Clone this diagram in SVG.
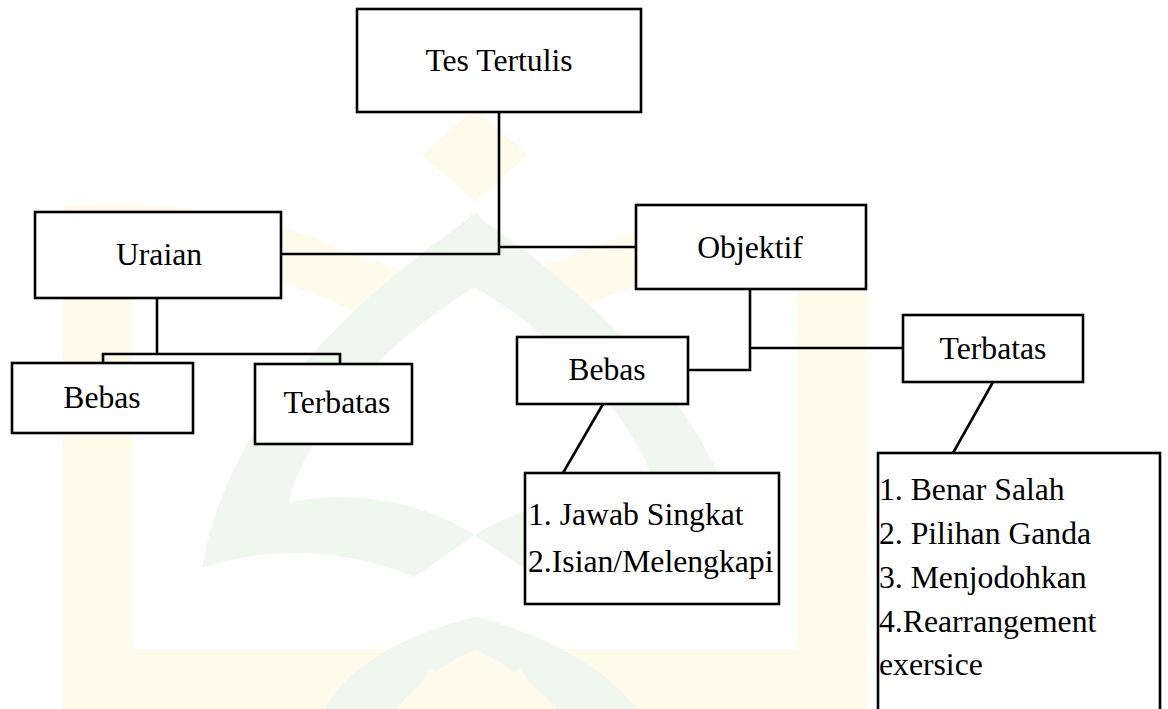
<svg xmlns="http://www.w3.org/2000/svg" width="1168" height="709" viewBox="0 0 1168 709">
<style>
.box{fill:#fff;stroke:#000;stroke-width:2.6}
.ln{fill:none;stroke:#000;stroke-width:2.6}
.t{font-family:"Liberation Serif","Times New Roman",serif;font-size:31.7px;fill:#000}
.c{text-anchor:middle}
.wy{fill:#fffbeb}
.wg{fill:#eff7ef}
</style>
<rect width="1168" height="709" fill="#fff"/>
<g id="watermark">
<rect class="wy" x="63" y="205" width="70" height="504"/>
<rect class="wy" x="797" y="205" width="70" height="504"/>
<rect class="wy" x="63" y="649" width="804" height="60"/>
<path class="wy" d="M55,207 C150,198 250,210 330,245 L403,272 L363,317 C320,290 230,262 133,255 L133,205 Z"/>
<path class="wy" d="M875,207 C780,198 680,210 600,245 L527,272 L567,317 C610,290 700,262 797,255 L797,205 Z"/>
<path class="wy" d="M475,108 L528,155 L475,202 L422,155 Z"/>
<path class="wg" d="M477,213 C380,280 230,400 202,568 L289,502 C310,420 400,320 520,263 Z"/>
<path class="wg" d="M473,213 C570,280 720,400 748,568 L661,502 C640,420 550,320 430,263 Z"/>
<path class="wg" d="M202,568 C260,548 340,545 414,577 L475,535 C420,500 350,490 289,502 Z"/>
<path class="wg" d="M748,568 C690,548 610,545 536,577 L475,535 C530,500 600,490 661,502 Z"/>
<path class="wg" d="M325,709 C350,660 420,630 475,617 C530,630 600,660 637,709 L557,709 C530,680 500,660 475,650 C450,660 420,680 396,709 Z"/>
<path class="wy" d="M407,709 L430,668 L475,693 L520,668 L546,709 Z"/>
</g>
<g id="connectors">
<polyline class="ln" points="499,112 499,254 281,254"/>
<line class="ln" x1="499" y1="247" x2="636" y2="247"/>
<polyline class="ln" points="157,298 157,354"/>
<polyline class="ln" points="103,363 103,354 340,354 340,364"/>
<polyline class="ln" points="750,289 750,370 688,370"/>
<line class="ln" x1="750" y1="348" x2="903" y2="348"/>
<line class="ln" x1="603" y1="404" x2="563" y2="473"/>
<line class="ln" x1="993" y1="382" x2="953" y2="453"/>
</g>
<g id="tes-tertulis">
<rect class="box" x="357" y="9" width="284" height="103"/>
<text class="t c" x="499" y="71">Tes Tertulis</text>
</g>
<g id="uraian">
<rect class="box" x="35" y="212" width="246" height="86"/>
<text class="t c" x="159" y="265">Uraian</text>
</g>
<g id="objektif">
<rect class="box" x="636" y="205" width="230" height="84"/>
<text class="t c" x="750" y="258">Objektif</text>
</g>
<g id="uraian-bebas">
<rect class="box" x="12" y="363" width="181" height="70"/>
<text class="t c" x="102" y="408">Bebas</text>
</g>
<g id="uraian-terbatas">
<rect class="box" x="255" y="364" width="157" height="80"/>
<text class="t c" x="337" y="413">Terbatas</text>
</g>
<g id="objektif-bebas">
<rect class="box" x="517" y="337" width="171" height="67"/>
<text class="t c" x="607" y="380">Bebas</text>
</g>
<g id="objektif-terbatas">
<rect class="box" x="903" y="315" width="180" height="67"/>
<text class="t c" x="993" y="359">Terbatas</text>
</g>
<g id="list-bebas">
<rect class="box" x="525" y="473" width="254" height="131"/>
<text class="t" x="528" y="525">1. Jawab Singkat</text>
<text class="t" x="528" y="572">2.Isian/Melengkapi</text>
</g>
<g id="list-terbatas">
<rect class="box" x="878" y="453" width="282" height="270"/>
<text class="t" x="879" y="500">1. Benar Salah</text>
<text class="t" x="879" y="544">2. Pilihan Ganda</text>
<text class="t" x="879" y="588">3. Menjodohkan</text>
<text class="t" x="879" y="632">4.Rearrangement</text>
<text class="t" x="879" y="675">exersice</text>
</g>
</svg>
